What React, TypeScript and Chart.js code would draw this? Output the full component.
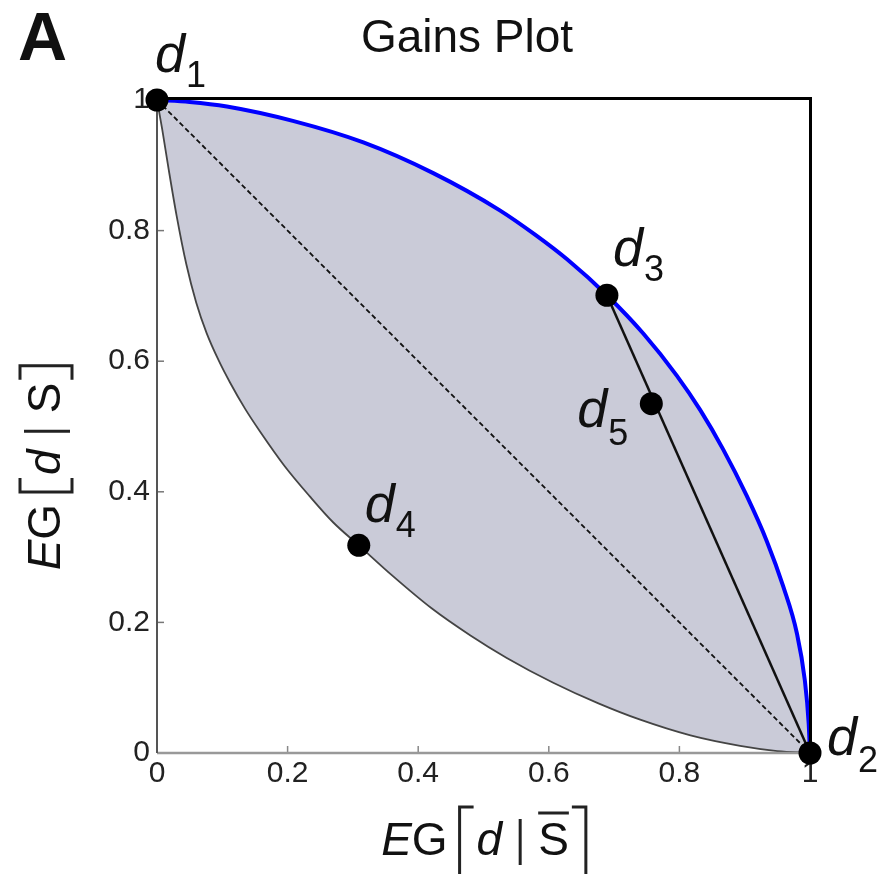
import React, { useEffect, useRef } from 'react';
import { Chart, registerables } from 'chart.js';

Chart.register(...registerables);

// ---- data ----
const upperX = [0, 0.05, 0.107, 0.208, 0.316, 0.423, 0.525, 0.58, 0.628, 0.689, 0.745, 0.796, 0.832, 0.867, 0.903, 0.934, 0.959, 0.98, 0.992, 0.998, 1];
const upperY = [1, 0.997, 0.99, 0.968, 0.935, 0.888, 0.831, 0.793, 0.756, 0.701, 0.642, 0.578, 0.525, 0.465, 0.394, 0.324, 0.255, 0.183, 0.112, 0.045, 0];

const lowerX = [0, 0.008, 0.018, 0.03, 0.045, 0.06, 0.076, 0.095, 0.112, 0.135, 0.158, 0.195, 0.234, 0.27, 0.309, 0.36, 0.42, 0.48, 0.535, 0.606, 0.676, 0.74, 0.817, 0.893, 0.95, 1];
const lowerY = [1, 0.955, 0.893, 0.823, 0.748, 0.69, 0.643, 0.6, 0.567, 0.527, 0.492, 0.44, 0.393, 0.353, 0.318, 0.272, 0.222, 0.18, 0.146, 0.108, 0.076, 0.051, 0.027, 0.011, 0.003, 0];

const pointNames = ['1', '2', '3', '4', '5'];
const pointX = [0, 1, 0.689, 0.309, 0.757];
const pointY = [1, 0, 0.701, 0.318, 0.535];

const diagonalX = [0, 1];
const diagonalY = [1, 0];

const chordX = [0.689, 1];
const chordY = [0.701, 0];

const xTickLabels = ['0', '0.2', '0.4', '0.6', '0.8', '1'];
const yTickLabels = ['0', '0.2', '0.4', '0.6', '0.8', '1'];

const chartTitle = 'Gains Plot';
const panelLetter = 'A';

// ---- styling ----
const FONT = '"Liberation Sans", Arial, sans-serif';

// label offsets (pixels from the point): [dx, dy of "d" baseline, subscript dy]
const labelOffsets: Record<string, [number, number, number]> = {
  '1': [-2, -28, 15],
  '2': [17, 2, 17],
  '3': [6, -29, 15],
  '4': [6, -23, 15],
  '5': [-74, 23, 18],
};

const zip = (xs: number[], ys: number[]) => xs.map((x, i) => ({ x, y: ys[i] }));

function drawEGLabel(ctx: CanvasRenderingContext2D, bar: boolean, fullBrackets: boolean, topB: number, botB: number) {
  const fs = 46;
  const fItal = `italic ${fs}px ${FONT}`;
  const fNorm = `${fs}px ${FONT}`;
  ctx.font = fItal;
  const wE = ctx.measureText('E').width;
  const wd = ctx.measureText('d').width;
  ctx.font = fNorm;
  const wG = ctx.measureText('G').width;
  const wS = ctx.measureText('S').width;
  const gapB = 12, gapIn = 17, gapBar = 18;
  const total = wE + wG + gapB + gapIn + wd + gapBar + gapBar + wS + gapIn;
  let x = -total / 2;
  ctx.fillStyle = '#111';
  ctx.textBaseline = 'alphabetic';
  ctx.textAlign = 'left';
  ctx.font = fItal;
  ctx.fillText('E', x, 0);
  x += wE;
  ctx.font = fNorm;
  ctx.fillText('G', x, 0);
  x += wG + gapB;
  ctx.strokeStyle = '#222';
  ctx.lineWidth = 3;
  ctx.beginPath();
  ctx.moveTo(x + 14, topB);
  ctx.lineTo(x, topB);
  ctx.lineTo(x, botB);
  if (fullBrackets) ctx.lineTo(x + 14, botB);
  ctx.stroke();
  x += gapIn;
  ctx.font = fItal;
  ctx.fillText('d', x, 0);
  x += wd + gapBar;
  ctx.lineWidth = 3;
  ctx.beginPath();
  ctx.moveTo(x, -36);
  ctx.lineTo(x, 10);
  ctx.stroke();
  x += gapBar;
  ctx.font = fNorm;
  ctx.fillText('S', x, 0);
  if (bar) {
    ctx.lineWidth = 3;
    ctx.beginPath();
    ctx.moveTo(x, -42);
    ctx.lineTo(x + wS, -42);
    ctx.stroke();
  }
  x += wS + gapIn;
  ctx.lineWidth = 3;
  ctx.beginPath();
  ctx.moveTo(x - 14, topB);
  ctx.lineTo(x, topB);
  ctx.lineTo(x, botB);
  if (fullBrackets) ctx.lineTo(x - 14, botB);
  ctx.stroke();
}

const overlayPlugin = {
  id: 'gainsOverlay',
  afterDatasetDraw(chart: any, args: any) {
    const ds = chart.data.datasets[args.index];
    if (ds.label !== 'upper') return;
    const { ctx, chartArea } = chart;
    const { left, right, top, bottom } = chartArea;
    const xs = chart.scales.x;
    const ys = chart.scales.y;
    ctx.save();
    ctx.lineWidth = 1.5;
    ctx.strokeStyle = '#888';
    xs.ticks.forEach((t: any) => {
      const px = xs.getPixelForValue(t.value);
      ctx.beginPath();
      ctx.moveTo(px, bottom);
      ctx.lineTo(px, bottom - 7);
      ctx.stroke();
    });
    ctx.strokeStyle = '#777';
    ys.ticks.forEach((t: any) => {
      const py = ys.getPixelForValue(t.value);
      ctx.beginPath();
      ctx.moveTo(left, py);
      ctx.lineTo(left + 7, py);
      ctx.stroke();
    });
    ctx.lineWidth = 2.5;
    ctx.strokeStyle = '#999';
    ctx.beginPath();
    ctx.moveTo(left, bottom);
    ctx.lineTo(right, bottom);
    ctx.stroke();
    ctx.lineWidth = 2;
    ctx.strokeStyle = '#555';
    ctx.beginPath();
    ctx.moveTo(left, top);
    ctx.lineTo(left, bottom);
    ctx.stroke();
    ctx.lineWidth = 3;
    ctx.strokeStyle = '#000';
    ctx.beginPath();
    ctx.moveTo(left, top - 1.5);
    ctx.lineTo(right + 0.5, top - 1.5);
    ctx.lineTo(right + 0.5, bottom);
    ctx.stroke();
    ctx.restore();
  },
  afterDraw(chart: any) {
    const { ctx, chartArea } = chart;
    const xs = chart.scales.x;
    const ys = chart.scales.y;
    ctx.save();
    ctx.fillStyle = '#111';
    ctx.textBaseline = 'alphabetic';
    ctx.font = `bold 68px ${FONT}`;
    ctx.textAlign = 'left';
    ctx.fillText(panelLetter, 18, 60);
    ctx.font = `46px ${FONT}`;
    ctx.textAlign = 'center';
    ctx.fillText(chartTitle, 467, 52);
    pointNames.forEach((name, i) => {
      const px = xs.getPixelForValue(pointX[i]);
      const py = ys.getPixelForValue(pointY[i]);
      const [dx, dy, sdy] = labelOffsets[name];
      ctx.textAlign = 'left';
      ctx.font = `italic 54px ${FONT}`;
      ctx.fillText('d', px + dx, py + dy);
      const w = ctx.measureText('d').width;
      ctx.font = `36px ${FONT}`;
      ctx.fillText(name, px + dx + w + 1, py + dy + sdy);
    });
    const cx = (chartArea.left + chartArea.right) / 2;
    ctx.save();
    ctx.translate(cx, 855);
    drawEGLabel(ctx, true, false, -48, 30);
    ctx.restore();
    ctx.save();
    ctx.translate(60, 468);
    ctx.rotate(-Math.PI / 2);
    drawEGLabel(ctx, false, true, -40, 12);
    ctx.restore();
    ctx.restore();
  },
};

export default function App() {
  const ref = useRef<HTMLCanvasElement>(null);
  useEffect(() => {
    document.body.style.margin = '0';
    const upper = zip(upperX, upperY);
    const lower = zip(lowerX, lowerY);
    const polygon = [...upper, ...lower.slice().reverse()];
    const chart = new Chart(ref.current as HTMLCanvasElement, {
      type: 'scatter',
      data: {
        datasets: [
          {
            label: 'points',
            data: zip(pointX, pointY),
            pointRadius: 11.5,
            pointHoverRadius: 11.5,
            pointBackgroundColor: '#000',
            pointBorderColor: '#000',
            pointBorderWidth: 0,
            showLine: false,
            order: 0,
            clip: false,
          } as any,
          {
            label: 'chord',
            data: zip(chordX, chordY),
            showLine: true,
            borderColor: '#111',
            borderWidth: 2.5,
            pointRadius: 0,
            order: 1,
            clip: false,
          },
          {
            label: 'diagonal',
            data: zip(diagonalX, diagonalY),
            showLine: true,
            borderColor: '#111',
            borderWidth: 1.8,
            borderDash: [5, 3],
            pointRadius: 0,
            order: 2,
            clip: false,
          },
          {
            label: 'upper',
            data: upper,
            showLine: true,
            borderColor: '#0000ff',
            borderWidth: 4,
            pointRadius: 0,
            cubicInterpolationMode: 'monotone',
            order: 3,
            clip: false,
          },
          {
            label: 'lower',
            data: lower,
            showLine: true,
            borderColor: '#444',
            borderWidth: 1.8,
            pointRadius: 0,
            cubicInterpolationMode: 'monotone',
            order: 4,
            clip: false,
          },
          {
            label: 'region',
            data: polygon,
            showLine: true,
            borderWidth: 0,
            borderColor: 'rgba(0,0,0,0)',
            backgroundColor: '#cacbd8',
            fill: 'shape',
            pointRadius: 0,
            tension: 0,
            order: 5,
            clip: false,
          },
        ] as any,
      },
      options: {
        animation: false,
        responsive: false,
        events: [],
        layout: { padding: { left: 0, right: 74, top: 100, bottom: 0 } },
        plugins: {
          legend: { display: false },
          tooltip: { enabled: false },
          title: { display: false },
        },
        scales: {
          x: {
            type: 'linear',
            min: 0,
            max: 1,
            grid: { display: false, drawTicks: false },
            border: { display: false },
            ticks: {
              stepSize: 0.2,
              maxRotation: 0,
              padding: 3,
              color: '#222',
              font: { family: FONT, size: 30 },
              callback: (_v: any, i: number) => xTickLabels[i],
            },
            afterFit: (s: any) => {
              s.height = 121;
            },
          },
          y: {
            type: 'linear',
            min: 0,
            max: 1,
            grid: { display: false, drawTicks: false },
            border: { display: false },
            ticks: {
              stepSize: 0.2,
              padding: 7,
              color: '#222',
              font: { family: FONT, size: 30 },
              callback: (_v: any, i: number) => yTickLabels[i],
            },
            afterFit: (s: any) => {
              s.width = 157;
            },
          },
        },
      } as any,
      plugins: [overlayPlugin],
    });
    return () => chart.destroy();
  }, []);
  return (
    <div style={{ position: 'fixed', left: 0, top: 0, width: 884, height: 874, background: '#fff' }}>
      <canvas ref={ref} width={884} height={874} style={{ display: 'block' }} />
    </div>
  );
}
